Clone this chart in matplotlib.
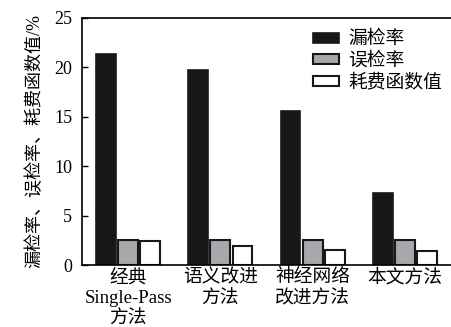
import matplotlib
matplotlib.use("Agg")
import matplotlib.pyplot as plt
import numpy as np

plt.rcParams['font.family'] = ['Liberation Serif', 'Noto Sans CJK SC']

categories = ["经典\nSingle-Pass\n方法", "语义改进\n方法", "神经网络\n改进方法", "本文方法"]
miss_rate = [21.4, 19.7, 15.6, 7.3]
false_rate = [2.5, 2.5, 2.5, 2.5]
cost_value = [2.4, 1.9, 1.5, 1.4]
series_names = ["漏检率", "误检率", "耗费函数值"]
yticks = [0, 5, 10, 15, 20, 25]

fig = plt.figure(figsize=(4.51, 3.27), dpi=100)
ax = fig.add_axes([82/451, 1-265/327, 1.0 - 82/451, (265-18)/327])

x = np.arange(len(categories))
w = 0.215
off = 0.24
ax.bar(x - off, miss_rate, w, color='#1a1718', edgecolor='#1a1718', linewidth=1.2, label=series_names[0])
ax.bar(x, false_rate, w, color='#a6a8ab', edgecolor='#1a1718', linewidth=1.5, label=series_names[1])
ax.bar(x + off, cost_value, w, color='white', edgecolor='#1a1718', linewidth=1.5, label=series_names[2])

ax.set_xlim(-0.5, 3.5)
ax.set_ylim(0, 25)
ax.set_yticks(yticks)
ax.set_yticklabels([str(t) for t in yticks], fontsize=13)
ax.set_xticks(x)
ax.set_xticklabels(categories, fontsize=13.5, linespacing=1.28)
ax.tick_params(axis='x', length=0, pad=3)
ax.tick_params(axis='y', direction='in', length=4, width=1, pad=7)
for s in ['left', 'bottom', 'top']:
    ax.spines[s].set_linewidth(1.2)
ax.spines['right'].set_visible(False)

ax.set_ylabel("漏检率、误检率、耗费函数值/%", fontsize=13, labelpad=8)

leg = ax.legend(loc='upper right', bbox_to_anchor=(1.0, 0.985), frameon=False, fontsize=13.5,
                handlelength=1.4, handleheight=0.45, handletextpad=0.45, labelspacing=0.2,
                borderaxespad=0.1)

fig.savefig("out.png", dpi=100)
